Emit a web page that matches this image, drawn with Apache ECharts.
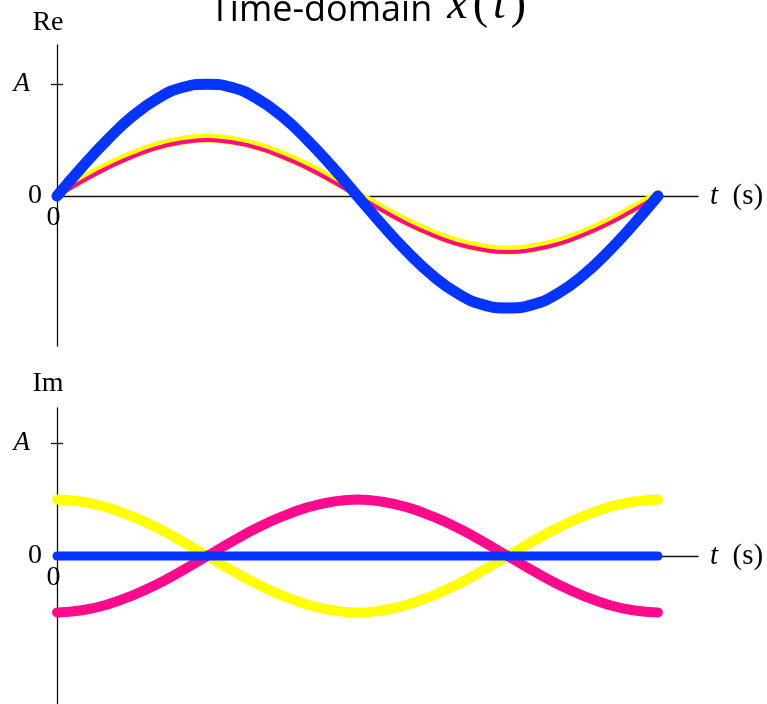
<!DOCTYPE html>
<html>
<head>
<meta charset="utf-8">
<script src="https://cdn.jsdelivr.net/npm/echarts@6/dist/echarts.min.js"></script>
<style>
  html, body { margin: 0; padding: 0; background: #fff; }
  #chart { width: 767px; height: 704px; }
</style>
</head>
<body>
<div id="chart"></div>
<script>
// Sample instants over one period (24 steps per period)
const samples = [0,1,2,3,4,5,6,7,8,9,10,11,12,13,14,15,16,17,18,19,20,21,22,23,24];

// Real parts (in units of A)
const reSum      = [0,0.26,0.5,0.71,0.87,0.97,1,0.97,0.87,0.71,0.5,0.26,0,-0.26,-0.5,-0.71,-0.87,-0.97,-1,-0.97,-0.87,-0.71,-0.5,-0.26,0];
const rePositive = [0,0.13,0.25,0.35,0.43,0.48,0.5,0.48,0.43,0.35,0.25,0.13,0,-0.13,-0.25,-0.35,-0.43,-0.48,-0.5,-0.48,-0.43,-0.35,-0.25,-0.13,0];
const reNegative = [0,0.13,0.25,0.35,0.43,0.48,0.5,0.48,0.43,0.35,0.25,0.13,0,-0.13,-0.25,-0.35,-0.43,-0.48,-0.5,-0.48,-0.43,-0.35,-0.25,-0.13,0];

// Imaginary parts (in units of A)
const imSum      = [0,0,0,0,0,0,0,0,0,0,0,0,0,0,0,0,0,0,0,0,0,0,0,0,0];
const imPositive = [0.5,0.48,0.43,0.35,0.25,0.13,0,-0.13,-0.25,-0.35,-0.43,-0.48,-0.5,-0.48,-0.43,-0.35,-0.25,-0.13,0,0.13,0.25,0.35,0.43,0.48,0.5];
const imNegative = [-0.5,-0.48,-0.43,-0.35,-0.25,-0.13,0,0.13,0.25,0.35,0.43,0.48,0.5,0.48,0.43,0.35,0.25,0.13,0,-0.13,-0.25,-0.35,-0.43,-0.48,-0.5];

// Tick labels
const yTickValues = [0, 1];
const yTickNames = ['0', 'A'];
const panelNames = ['Re', 'Im'];

const BLUE = '#0434ff';
const YELLOW = '#ffff00';
const PINK = '#ff0a8c';
const SERIF = '"Liberation Serif", "DejaVu Serif", serif';

const pairs = arr => samples.map((t, i) => [t, arr[i]]);

// Horizontal time axis, lifted from the grid bottom up to the zero level
function xAxisFor(gridIndex, lift) {
  return {
    type: 'value', gridIndex, min: 0, max: 25.6,
    position: 'bottom', offset: -lift,
    splitLine: { show: false },
    axisLine: { onZero: false, lineStyle: { color: '#111', width: 1.3 } },
    axisTick: { show: false },
    axisLabel: {
      customValues: [0], margin: 8,
      formatter: () => '0',
      fontFamily: SERIF, fontSize: 28, color: '#000',
      padding: [0, 7, 0, 0]
    },
    name: '{i|t}  (s)', nameLocation: 'end', nameGap: 12,
    nameTextStyle: {
      fontFamily: SERIF, fontSize: 29, color: '#000',
      rich: { i: { fontFamily: SERIF, fontStyle: 'italic', fontSize: 29, color: '#000' } }
    }
  };
}

function yAxisFor(gridIndex, min, max, name, gap) {
  return {
    type: 'value', gridIndex, min, max, position: 'left',
    splitLine: { show: false },
    axisLine: { onZero: false, lineStyle: { color: '#111', width: 1.3 } },
    axisTick: { show: true, customValues: [1], length: 6, lineStyle: { color: '#111', width: 1.3 } },
    axisLabel: {
      customValues: yTickValues, margin: 15,
      formatter: v => v === 1 ? '{i|' + yTickNames[1] + '}' : yTickNames[0],
      fontFamily: SERIF, fontSize: 28, color: '#000',
      rich: { i: { fontFamily: SERIF, fontStyle: 'italic', fontSize: 27, color: '#000', padding: [0, 12, 0, 0] } }
    },
    name, nameLocation: 'end', nameGap: gap,
    nameTextStyle: { fontFamily: SERIF, fontSize: 28, color: '#000', padding: [0, 18, 0, 0] }
  };
}

// Companion axis supplying the inner half of the A tick
function innerTickAxis(gridIndex, min, max) {
  return {
    type: 'value', gridIndex, min, max, position: 'left',
    splitLine: { show: false },
    axisLine: { show: false, onZero: false },
    axisLabel: { show: false },
    axisTick: { show: true, inside: true, customValues: [1], length: 6, lineStyle: { color: '#111', width: 1.3 } }
  };
}

function line(data, xi, yi, color, width, extra) {
  return {
    type: 'line', xAxisIndex: xi, yAxisIndex: yi,
    data: pairs(data), smooth: true, showSymbol: false, silent: true,
    lineStyle: Object.assign({ color, width, cap: 'round', join: 'round' }, extra || {})
  };
}

const chart = echarts.init(document.getElementById('chart'), null, { renderer: 'canvas' });
chart.setOption({
  animation: false,
  backgroundColor: '#fff',
  title: {
    text: '{a|Time-domain}   {b|x} {c|(} {b|t} {c|)}',
    left: 205, top: -22,
    textStyle: {
      fontWeight: 'normal',
      rich: {
        a: { fontFamily: '"Open Sans", sans-serif', fontWeight: 'normal', fontSize: 36, color: '#000', verticalAlign: 'bottom' },
        b: { fontFamily: SERIF, fontStyle: 'italic', fontWeight: 'normal', fontSize: 46, color: '#000', verticalAlign: 'bottom' },
        c: { fontFamily: SERIF, fontWeight: 'normal', fontSize: 46, color: '#000', verticalAlign: 'bottom' }
      }
    }
  },
  grid: [
    { left: 57, top: 45, width: 641, height: 301, outerBoundsMode: 'none' },
    { left: 57, top: 408, width: 641, height: 296, outerBoundsMode: 'none' }
  ],
  xAxis: [xAxisFor(0, 150), xAxisFor(1, 148)],
  yAxis: [
    yAxisFor(0, -1.34, 1.35, panelNames[0], 8),
    yAxisFor(1, -1.31, 1.31, panelNames[1], 10),
    innerTickAxis(0, -1.34, 1.35),
    innerTickAxis(1, -1.31, 1.31)
  ],
  series: [
    line(rePositive, 0, 0, YELLOW, 5, { shadowColor: YELLOW, shadowBlur: 0, shadowOffsetY: -4 }),
    line(reNegative, 0, 0, PINK, 4),
    line(reSum, 0, 0, BLUE, 11),
    line(imPositive, 1, 1, YELLOW, 10),
    line(imNegative, 1, 1, PINK, 10),
    line(imSum, 1, 1, BLUE, 9)
  ]
});
</script>
</body>
</html>
